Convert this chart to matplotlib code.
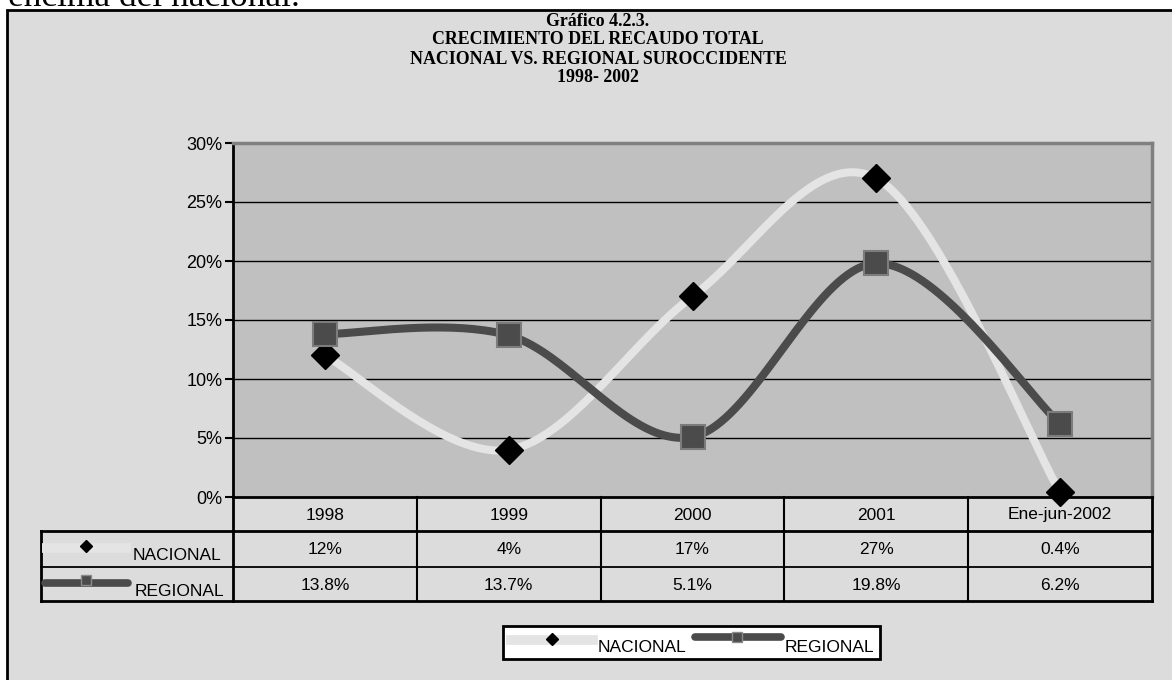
import numpy as np
import matplotlib
matplotlib.use("Agg")
import matplotlib.pyplot as plt
from matplotlib.patches import Rectangle
from matplotlib.ticker import FuncFormatter

# data
categories = ['1998', '1999', '2000', '2001', 'Ene-jun-2002']
nacional = [12, 4, 17, 27, 0.4]
regional = [13.8, 13.7, 5.1, 19.8, 6.2]
y_ticks = [0, 5, 10, 15, 20, 25, 30]
title_lines = ['Gráfico 4.2.3.', 'CRECIMIENTO DEL RECAUDO TOTAL',
               'NACIONAL VS. REGIONAL SUROCCIDENTE', '1998- 2002']

W, H = 1172, 680
NAC_COLOR = '#e4e4e4'
REG_COLOR = '#4b4b4b'
SANS = 'Liberation Sans'
SERIF = 'Liberation Serif'


def smooth(xs, ys, n=40):
    # excel-like smoothed line (bezier through the points)
    pts = np.column_stack([xs, ys]).astype(float)
    ext = np.vstack([pts[0], pts, pts[-1]])
    out = []
    t = np.linspace(0, 1, n)[:, None]
    for i in range(len(pts) - 1):
        p0, p1, p2, p3 = ext[i], ext[i + 1], ext[i + 2], ext[i + 3]
        c1 = p1 + (p2 - p0) / 6
        c2 = p2 - (p3 - p1) / 6
        seg = (1 - t) ** 3 * p1 + 3 * (1 - t) ** 2 * t * c1 + 3 * (1 - t) * t ** 2 * c2 + t ** 3 * p2
        out.append(seg if i == 0 else seg[1:])
    return np.vstack(out)


fig = plt.figure(figsize=(W / 100, H / 100), dpi=100)
fig.patch.set_facecolor('white')

# chart background with black border
fig.patches.append(Rectangle((7 / W, -0.05), 1.1, 1 - 10 / H + 0.05, transform=fig.transFigure,
                             facecolor='#dcdcdc', edgecolor='black', linewidth=2, zorder=-5))

# cut-off text of the document above the chart
fig.text(8 / W, 1 - 6 / H, 'encima del nacional.', family=SERIF, fontsize=25.5, va='baseline',
         zorder=-4)

# plot area
px0, px1, py0, py1 = 233, 1152, 143, 497
ax = fig.add_axes([px0 / W, 1 - py1 / H, (px1 - px0) / W, (py1 - py0) / H])
ax.set_facecolor('#c0c0c0')
ax.set_xlim(-0.5, len(categories) - 0.5)
ax.set_ylim(0, 30)
ax.set_yticks(y_ticks)
ax.yaxis.set_major_formatter(FuncFormatter(lambda v, p: f'{v:.0f}%'))
ax.set_xticks([])
ax.tick_params(axis='y', length=6, width=1.5, direction='out', labelsize=13, pad=1.5)
for lbl in ax.get_yticklabels():
    lbl.set_family(SANS)
for v in y_ticks[1:-1]:
    ax.axhline(v, color='black', linewidth=1, zorder=1)
ax.spines['left'].set_linewidth(2)
ax.spines['bottom'].set_linewidth(2)
ax.spines['top'].set_color('#808080')
ax.spines['right'].set_color('#808080')
ax.spines['top'].set_linewidth(2.5)
ax.spines['right'].set_linewidth(2.5)

xs = np.arange(len(categories))
sn = smooth(xs, nacional)
sr = smooth(xs, regional)
ax.plot(sn[:, 0], sn[:, 1], color=NAC_COLOR, linewidth=5.8, zorder=3, solid_capstyle='butt')
ax.plot(sr[:, 0], sr[:, 1], color=REG_COLOR, linewidth=5.8, zorder=3, solid_capstyle='butt')
ax.plot(xs, nacional, linestyle='none', marker='D', markersize=14, color='black',
        zorder=5, clip_on=False)
ax.plot(xs, regional, linestyle='none', marker='s', markersize=17.5, markerfacecolor=REG_COLOR,
        markeredgecolor='#7c7c7c', markeredgewidth=1.5, zorder=6, clip_on=False)

# overlay in pixel coordinates for data table and legend
ov = fig.add_axes([0, 0, 1, 1], facecolor='none')
ov.set_xlim(0, W)
ov.set_ylim(H, 0)
ov.axis('off')

kx0 = 41
colw = (px1 - px0) / len(categories)
row_y = [497, 531, 567, 601]
ov.plot([kx0, px1], [row_y[1], row_y[1]], color='black', lw=2)
ov.plot([kx0, px1], [row_y[2], row_y[2]], color='black', lw=1.3)
ov.plot([kx0, px1], [row_y[3], row_y[3]], color='black', lw=2)
ov.plot([kx0, kx0], [row_y[1], row_y[3]], color='black', lw=2)
ov.plot([px0, px0], [row_y[0], row_y[3]], color='black', lw=2)
for i in range(1, len(categories)):
    xb = px0 + i * colw
    ov.plot([xb, xb], [row_y[0], row_y[3]], color='black', lw=1.5)
ov.plot([px1, px1], [row_y[0], row_y[3]], color='black', lw=2)

for i, cat in enumerate(categories):
    cx = px0 + (i + 0.5) * colw
    ov.text(cx, (row_y[0] + row_y[1]) / 2 + 1, cat, ha='center', va='center', family=SANS, fontsize=12.5)
    ov.text(cx, (row_y[1] + row_y[2]) / 2 + 1, f'{nacional[i]:g}%', ha='center', va='center',
            family=SANS, fontsize=12.5)
    ov.text(cx, (row_y[2] + row_y[3]) / 2 + 1, f'{regional[i]:g}%', ha='center', va='center',
            family=SANS, fontsize=12.5)

# legend keys inside the table
ov.plot([42, 131], [548, 548], color=NAC_COLOR, lw=7, solid_capstyle='butt')
ov.plot([86], [546], marker='D', markersize=6.5, color='black')
ov.text(133, 560, 'NACIONAL', family=SANS, fontsize=12.5, va='baseline')
ov.plot([45, 128], [583, 583], color=REG_COLOR, lw=5.5, solid_capstyle='round')
ov.plot([86], [580], marker='s', markersize=7, markerfacecolor=REG_COLOR,
        markeredgecolor='#8a8a8a', markeredgewidth=1)
ov.text(135, 596, 'REGIONAL', family=SANS, fontsize=12.5, va='baseline')

# legend at the bottom
ov.add_patch(Rectangle((503, 626), 377, 33, facecolor='white', edgecolor='black', lw=2))
ov.plot([506, 598], [640, 640], color=NAC_COLOR, lw=7, solid_capstyle='butt')
ov.plot([552], [639], marker='D', markersize=6.5, color='black')
ov.text(598, 652, 'NACIONAL', family=SANS, fontsize=12.5, va='baseline')
ov.plot([695, 781], [637, 637], color=REG_COLOR, lw=5.5, solid_capstyle='round')
ov.plot([737], [637], marker='s', markersize=7, markerfacecolor=REG_COLOR,
        markeredgecolor='#8a8a8a', markeredgewidth=1)
ov.text(785, 652, 'REGIONAL', family=SANS, fontsize=12.5, va='baseline')

# title
for k, line in enumerate(title_lines):
    fig.text(598 / W, 1 - (21 + 19 * k) / H, line, ha='center', va='center',
             family=SERIF, fontweight='bold', fontsize=12.9)

fig.savefig('out.png', dpi=100)
